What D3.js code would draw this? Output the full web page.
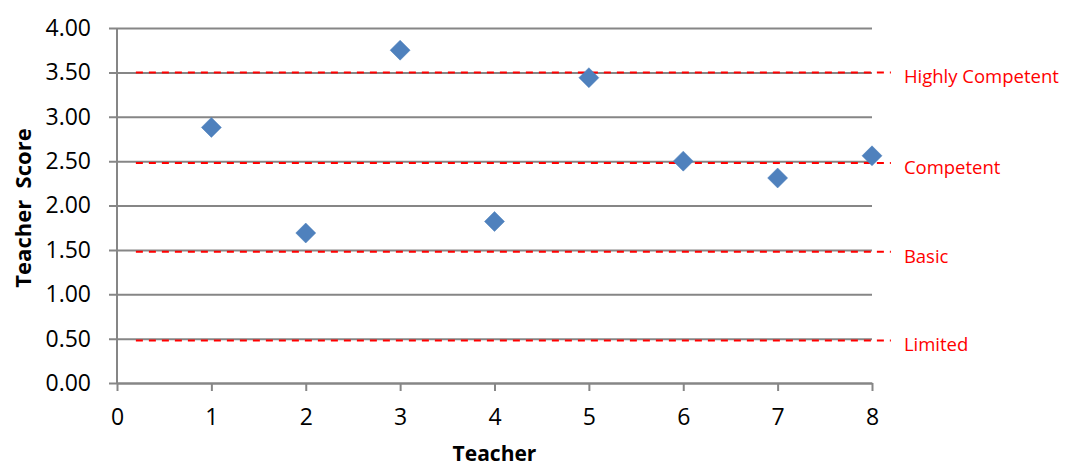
<!DOCTYPE html>
<html>
<head>
<meta charset="utf-8">
<script src="https://cdn.jsdelivr.net/npm/d3@7"></script>
<style>
  html, body { margin: 0; padding: 0; background: #fff; }
  svg { display: block; }
  text { font-family: "Open Sans", "Noto Sans", sans-serif; }
</style>
</head>
<body>
<svg id="chart" width="1065" height="468"></svg>
<script>
// Teacher scores
const teachers = [1, 2, 3, 4, 5, 6, 7, 8];
const scores = [2.88, 1.69, 3.75, 1.82, 3.44, 2.50, 2.31, 2.56];

// Competency bands (reference lines)
const bandNames = ["Highly Competent", "Competent", "Basic", "Limited"];
const bandLevels = [3.50, 2.48, 1.48, 0.48];
const bandStart = 0.2;
const bandEnd = 8.2;

// Axis ticks
const xTicks = [0, 1, 2, 3, 4, 5, 6, 7, 8];
const yTicks = [0, 0.5, 1, 1.5, 2, 2.5, 3, 3.5, 4];

const svg = d3.select("#chart");
const margin = { left: 117, right: 193, top: 28, bottom: 85 };
const W = 1065, H = 468;

const x = d3.scaleLinear().domain([0, 8]).range([margin.left, W - margin.right]);
const y = d3.scaleLinear().domain([0, 4]).range([H - margin.bottom, margin.top]);

const gridColor = "#868686";

// horizontal gridlines with outward ticks
svg.append("g")
  .attr("transform", `translate(${margin.left},0)`)
  .call(d3.axisLeft(y).tickValues(yTicks).tickFormat(d3.format(".2f"))
        .tickSize(-(x(8) - x(0))).tickSizeOuter(0).tickPadding(26))
  .call(g => g.select(".domain").remove())
  .call(g => g.selectAll(".tick line")
        .attr("x1", -8).attr("stroke", gridColor).attr("stroke-width", 2))
  .call(g => g.selectAll(".tick text")
        .attr("fill", "#000").style("font-size", "23px")
        .style("font-family", "'Open Sans', sans-serif"));

// y axis line
svg.append("line")
  .attr("x1", x(0)).attr("x2", x(0))
  .attr("y1", y(4)).attr("y2", y(0))
  .attr("stroke", gridColor).attr("stroke-width", 2);

// x axis
svg.append("g")
  .attr("transform", `translate(0,${y(0)})`)
  .call(d3.axisBottom(x).tickValues(xTicks).tickFormat(d3.format("d"))
        .tickSize(8).tickSizeOuter(0).tickPadding(18))
  .call(g => g.select(".domain").attr("stroke", gridColor).attr("stroke-width", 2))
  .call(g => g.selectAll(".tick line").attr("stroke", gridColor).attr("stroke-width", 2))
  .call(g => g.selectAll(".tick text")
        .attr("fill", "#000").style("font-size", "23px")
        .style("font-family", "'Open Sans', sans-serif"));

// red dashed competency lines
const bands = bandNames.map((name, i) => ({ name, level: bandLevels[i] }));
svg.append("g").selectAll("line").data(bands).join("line")
  .attr("x1", x(bandStart)).attr("x2", x(bandEnd))
  .attr("y1", d => y(d.level)).attr("y2", d => y(d.level))
  .attr("stroke", "#ff0000").attr("stroke-width", 2)
  .attr("stroke-dasharray", "7,6");

svg.append("g").selectAll("text").data(bands).join("text")
  .attr("x", x(bandEnd) + 13)
  .attr("y", d => y(d.level) + 6)
  .attr("dominant-baseline", "middle")
  .attr("fill", "#ff0000")
  .style("font-size", "18.5px")
  .text(d => d.name);

// diamond markers
const points = teachers.map((t, i) => ({ t, s: scores[i] }));
svg.append("g").selectAll("path").data(points).join("path")
  .attr("transform", d => `translate(${x(d.t)},${y(d.s)})`)
  .attr("d", "M0,-10L10,0L0,10L-10,0Z")
  .attr("fill", "#4f81bd")
  .attr("stroke", "#4a7ebb").attr("stroke-width", 0.5);

// axis titles
svg.append("text")
  .attr("x", (x(0) + x(8)) / 2)
  .attr("y", 461)
  .attr("text-anchor", "middle")
  .style("font-size", "21px").style("font-weight", "bold")
  .text("Teacher");

svg.append("text")
  .attr("transform", `translate(31,208) rotate(-90)`)
  .attr("text-anchor", "middle")
  .style("font-size", "22px").style("font-weight", "bold")
  .style("white-space", "pre")
  .text("Teacher  Score");
</script>
</body>
</html>
